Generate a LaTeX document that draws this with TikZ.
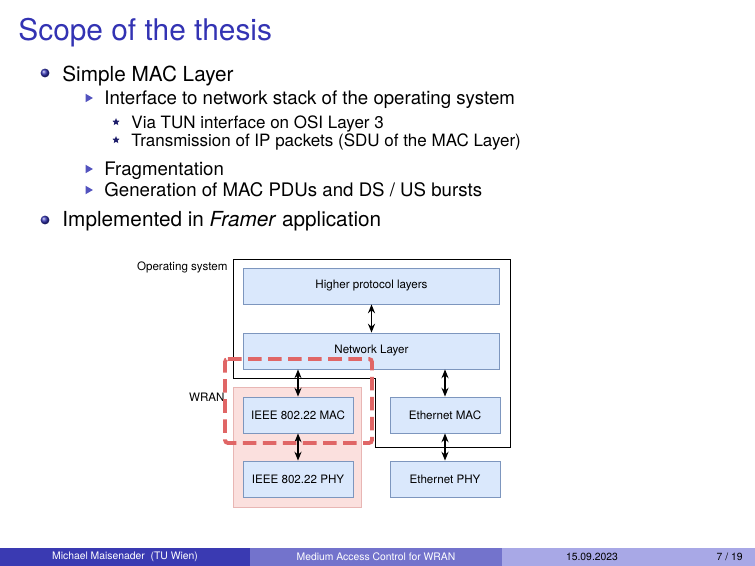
\documentclass[tikz,border=0pt]{standalone}
\usepackage{fontspec}
\setmainfont{TeX Gyre Heros}
\usepackage{tikz}
\usetikzlibrary{arrows.meta,calc,positioning,shapes.geometric}
\definecolor{structblue}{RGB}{51,51,179}
\definecolor{footdark}{RGB}{58,58,178}
\definecolor{footmid}{RGB}{115,115,204}
\definecolor{footlight}{RGB}{168,168,230}
\definecolor{layerfill}{RGB}{218,232,252}
\definecolor{layerdraw}{RGB}{125,150,190}
\definecolor{wranfill}{RGB}{251,224,222}
\definecolor{wrandraw}{RGB}{232,182,180}
\definecolor{scopered}{RGB}{224,102,102}
\tikzset{
  txt/.style={inner sep=0pt, anchor=base west},
  layer/.style={draw=layerdraw, fill=layerfill, inner sep=0pt, font=\fontsize{5.6}{6}\selectfont},
  wide/.style={layer, minimum width=43.4mm, minimum height=6.1mm},
  narrow/.style={layer, minimum width=18.65mm, minimum height=6.1mm},
  link/.style={{Stealth[length=1.5mm,width=1.2mm]}-{Stealth[length=1.5mm,width=1.2mm]}, semithick},
  ballbul/.style={circle, inner sep=0pt, minimum size=1.5mm, shading=ball, ball color=structblue},
  tribul/.style={isosceles triangle, isosceles triangle apex angle=60, fill=structblue!85, inner sep=0pt, minimum size=1.25mm},
  starbul/.style={star, star points=5, star point ratio=2.2, fill=structblue!60!black, inner sep=0pt, minimum size=1.3mm},
}
\begin{document}
\begin{tikzpicture}[x=0.16954mm, y=-0.16954mm]
        \useasboundingbox (0,0) rectangle (755,566);
        % Title
        \node[txt, structblue, font=\fontsize{14.4}{16}\selectfont] (title) at (18,40.7) {Scope of the thesis};
        % Items
        \node[ballbul] (b1) at (45,73) {};
        \node[txt, font=\fontsize{10}{12}\selectfont] (i1) at (62,81.7) {Simple MAC Layer};
        \node[tribul] (t1) at (88,98) {};
        \node[txt, font=\fontsize{9}{11}\selectfont] (i11) at (104,105) {Interface to network stack of the operating system};
        \node[starbul] (s1) at (116,122) {};
        \node[txt, font=\fontsize{8.2}{10}\selectfont] (i111) at (131,129) {Via TUN interface on OSI Layer 3};
        \node[starbul] (s2) at (116,140) {};
        \node[txt, font=\fontsize{8.2}{10}\selectfont] (i112) at (131,147) {Transmission of IP packets (SDU of the MAC Layer)};
        \node[tribul] (t2) at (88,169) {};
        \node[txt, font=\fontsize{9}{11}\selectfont] (i12) at (104,176) {Fragmentation};
        \node[tribul] (t3) at (88,190) {};
        \node[txt, font=\fontsize{9}{11}\selectfont] (i13) at (104,197) {Generation of MAC PDUs and DS / US bursts};
        \node[ballbul] (b2) at (45,220) {};
        \node[txt, font=\fontsize{10}{12}\selectfont] (i2) at (62,227) {Implemented in \emph{Framer} application};
        % Operating system outline
        \draw[thin] (233,259) -- (510,259) -- (510,447) -- (375,447) -- (375,378) -- (233,378) -- cycle;
        \node[anchor=east, inner sep=0pt, font=\fontsize{5.6}{6}\selectfont] (oslabel) at (228,267) {Operating system};
        % WRAN block
        \draw[wrandraw, fill=wranfill] (233,387) rectangle (361,507);
        \node[anchor=east, inner sep=0pt, font=\fontsize{5.6}{6}\selectfont] (wranlabel) at (225,397) {WRAN};
        % Layers
        \node[wide] (higher) at (371.5,286) {Higher protocol layers};
        \node[wide] (network) at (371.5,351) {Network Layer};
        \node[narrow] (wmac) at (298,415) {IEEE 802.22 MAC};
        \node[narrow] (wphy) at (298,479) {IEEE 802.22 PHY};
        \node[narrow] (emac) at (445,415) {Ethernet MAC};
        \node[narrow] (ephy) at (445,479) {Ethernet PHY};
        % Links
        \draw[link] (higher) -- (network);
        \draw[link] (wmac.north |- network.south) -- (wmac);
        \draw[link] (emac.north |- network.south) -- (emac);
        \draw[link] (wmac) -- (wphy);
        \draw[link] (emac) -- (ephy);
        % Scope of the thesis
        \draw[scopered, line width=0.65mm, dash pattern=on 2.3mm off 1.1mm, rounded corners=0.5mm]
        (225,359) -- (372,359) -- (372,443) -- (225,443) -- cycle;
        % Footer
        \fill[footdark] (0,548) rectangle (250,566);
        \fill[footmid] (250,548) rectangle (502,566);
        \fill[footlight] (502,548) rectangle (755,566);
        \node[white, inner sep=0pt, font=\fontsize{5}{6}\selectfont] (author) at (125,557) {Michael Maisenader\ \ (TU Wien)};
        \node[white, inner sep=0pt, font=\fontsize{5}{6}\selectfont] (talk) at (376,557) {Medium Access Control for WRAN};
        \node[inner sep=0pt, font=\fontsize{5}{6}\selectfont] (date) at (592,557) {15.09.2023};
        \node[anchor=east, inner sep=0pt, font=\fontsize{5}{6}\selectfont] (page) at (743,557) {7 / 19};
\end{tikzpicture}
\end{document}
